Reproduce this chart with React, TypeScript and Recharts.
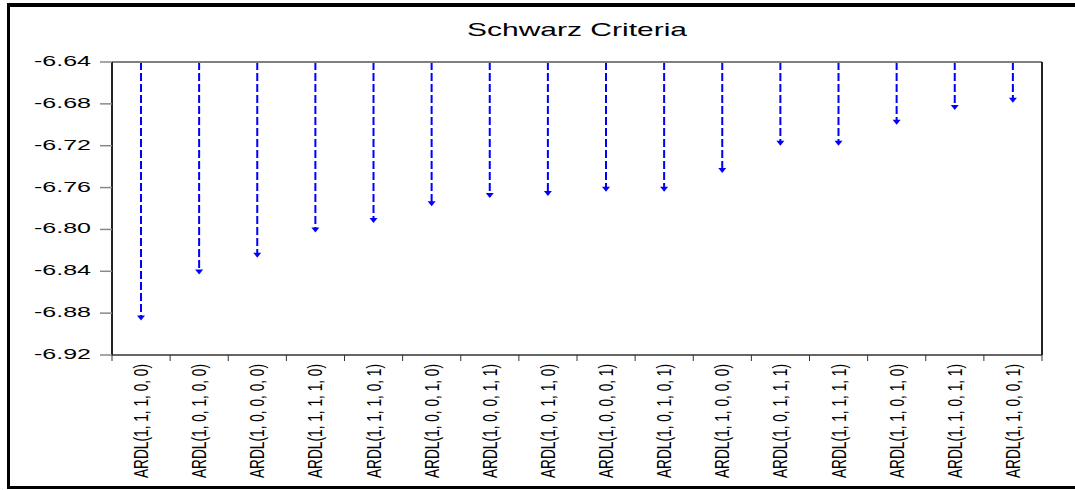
import React from "react";
import { ComposedChart, Bar, XAxis, YAxis, ReferenceLine } from "recharts";

const categories = [
  "ARDL(1, 1, 1, 0, 0)",
  "ARDL(1, 0, 1, 0, 0)",
  "ARDL(1, 0, 0, 0, 0)",
  "ARDL(1, 1, 1, 1, 0)",
  "ARDL(1, 1, 1, 0, 1)",
  "ARDL(1, 0, 0, 1, 0)",
  "ARDL(1, 0, 0, 1, 1)",
  "ARDL(1, 0, 1, 1, 0)",
  "ARDL(1, 0, 0, 0, 1)",
  "ARDL(1, 0, 1, 0, 1)",
  "ARDL(1, 1, 0, 0, 0)",
  "ARDL(1, 0, 1, 1, 1)",
  "ARDL(1, 1, 1, 1, 1)",
  "ARDL(1, 1, 0, 1, 0)",
  "ARDL(1, 1, 0, 1, 1)",
  "ARDL(1, 1, 0, 0, 1)",
];

const schwarzValues = [
  -6.886, -6.842, -6.826, -6.802, -6.793, -6.777, -6.769, -6.767, -6.763,
  -6.763, -6.745, -6.719, -6.719, -6.699, -6.685, -6.678,
];

const yTicks = [-6.64, -6.68, -6.72, -6.76, -6.8, -6.84, -6.88, -6.92];

const title = "Schwarz Criteria";

const data = categories.map((c, i) => ({ pos: i + 1, name: c, value: schwarzValues[i] }));
const xTicks: number[] = [];
for (let i = 0; i <= categories.length; i++) {
  xTicks.push(i + 0.5);
  if (i < categories.length) xTicks.push(i + 1);
}

const FONT = "'Liberation Sans', Arial, sans-serif";

const XTick = (props: any) => {
  const { x, y, payload } = props;
  const v = payload.value;
  if (Number.isInteger(v)) {
    const label = categories[v - 1];
    const bx = x + 7;
    const by = y + 123;
    return (
      <text
        x={bx}
        y={by}
        transform={`rotate(-90 ${bx} ${by})`}
        textAnchor="start"
        fontFamily={FONT}
        fontSize={20}
        fill="#000"
        textLength={114}
        lengthAdjust="spacingAndGlyphs"
      >
        {label}
      </text>
    );
  }
  return <line x1={x} y1={y} x2={x} y2={y + 6} stroke="#333" strokeWidth={1} />;
};

const YTick = (props: any) => {
  const { x, y, payload } = props;
  return (
    <text
      x={x}
      y={y + 4}
      textAnchor="end"
      fontFamily={FONT}
      fontSize={15}
      fill="#000"
      textLength={57}
      lengthAdjust="spacingAndGlyphs"
    >
      {Number(payload.value).toFixed(2)}
    </text>
  );
};

const Spike = (props: any) => {
  const { x, y, width, height } = props;
  const cx = x + width / 2;
  const a = y;
  const b = y + height;
  const top = Math.min(a, b);
  const tip = Math.max(a, b);
  return (
    <g>
      <line
        x1={cx}
        y1={top}
        x2={cx}
        y2={tip - 3}
        stroke="#0000FF"
        strokeWidth={2}
        strokeDasharray="8 3"
      />
      <polygon
        points={`${cx - 4},${tip - 4} ${cx + 4},${tip - 4} ${cx},${tip + 1}`}
        fill="#0000FF"
      />
    </g>
  );
};

export default function App() {
  return (
    <div style={{ position: "absolute", left: 0, top: 0, width: 1075, height: 490, background: "#fff", overflow: "hidden" }}>
      <div
        style={{
          position: "absolute",
          left: 7,
          top: 3,
          width: 1080,
          height: 486,
          borderLeft: "3px solid #000",
          borderTop: "4px solid #000",
          borderBottom: "3px solid #000",
          boxSizing: "border-box",
        }}
      />
      <svg style={{ position: "absolute", left: 0, top: 0 }} width={1075} height={60}>
        <text
          x={577}
          y={36}
          textAnchor="middle"
          fontFamily={FONT}
          fontSize={19}
          fill="#000"
          textLength={220}
          lengthAdjust="spacingAndGlyphs"
        >
          {title}
        </text>
      </svg>
      <div style={{ position: "absolute", left: 0, top: 0 }}>
        <ComposedChart
          width={1075}
          height={490}
          data={data}
          margin={{ top: 62, right: 33, left: 0, bottom: 0 }}
        >
          <XAxis
            dataKey="pos"
            type="number"
            domain={[0.5, 16.5]}
            ticks={xTicks}
            interval={0}
            tick={<XTick />}
            tickLine={false}
            tickSize={0}
            tickMargin={0}
            height={135}
            axisLine={{ stroke: "#333", strokeWidth: 1.5 }}
            allowDecimals
          />
          <YAxis
            type="number"
            domain={[-6.92, -6.64]}
            ticks={yTicks}
            interval={0}
            width={112}
            tickSize={12}
            tickMargin={9}
            tick={<YTick />}
            tickLine={{ stroke: "#888", strokeWidth: 1.5 }}
            axisLine={{ stroke: "#222", strokeWidth: 2 }}
            allowDataOverflow
          />
          <ReferenceLine y={-6.64} stroke="#808080" strokeWidth={2} />
          <ReferenceLine x={16.5} stroke="#222" strokeWidth={2} />
          <Bar dataKey="value" barSize={10} shape={<Spike />} isAnimationActive={false} />
        </ComposedChart>
      </div>
    </div>
  );
}
